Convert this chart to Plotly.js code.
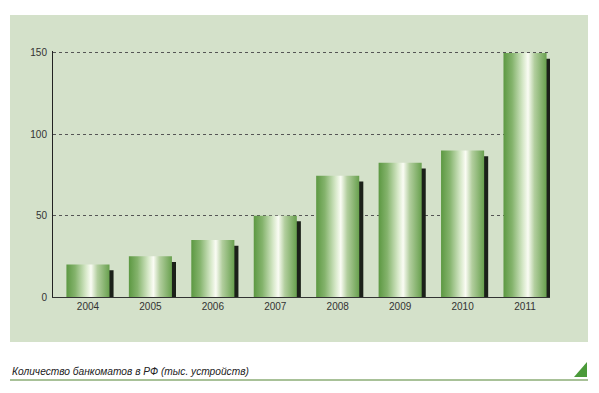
<!DOCTYPE html>
<html>
<head>
<meta charset="utf-8">
<script src="https://cdn.plot.ly/plotly-3.0.1.min.js"></script>
<style>html,body{margin:0;padding:0;background:#fff;}#chart{width:599px;height:393px;}</style>
</head>
<body>
<div id="chart"></div>
<script>
// Data
const years = ['2004','2005','2006','2007','2008','2009','2010','2011'];
const atms = [20, 25, 35, 50, 74.5, 82.5, 90, 150];
const yTicks = [0, 50, 100, 150];
const caption = 'Количество банкоматов в РФ (тыс. устройств)';

// Style
const W = 599, H = 393;
const yMax = 151.2;
const plotL = 53, plotR = 550, plotB = 297;
const plotT = Math.round(plotB - 244 * yMax / 150);
const pw = plotR - plotL, ph = plotB - plotT;
const px = v => (v - plotL) / pw;
const py = v => (plotB - v) / ph;

const barW = 0.69;
const idx = years.map((_, i) => i);
const gradScale = [
  [0.00, 'rgb(92,152,66)'],
  [0.20, 'rgb(132,179,108)'],
  [0.45, 'rgb(214,232,200)'],
  [0.57, 'rgb(250,252,244)'],
  [0.72, 'rgb(178,206,158)'],
  [1.00, 'rgb(104,160,78)']
];

const traces = [];
// shadow
traces.push({
  type:'bar', x:idx, y:atms.map(v=>v-3.5),
  width:barW, offset:-barW/2+0.065,
  marker:{color:'#1b2019', line:{width:0}},
  hoverinfo:'skip', showlegend:false
});
// gradient bars
idx.forEach((i) => {
  const v = atms[i];
  const l = i - barW/2, r = i + barW/2;
  traces.push({
    type:'scatter', mode:'lines',
    x:[l, r, r, l, l], y:[0, 0, v, v, 0],
    fill:'toself',
    fillgradient:{type:'horizontal', colorscale:gradScale, start:l, stop:r},
    line:{width:0, color:'rgba(0,0,0,0)'},
    hoverinfo:'skip', showlegend:false
  });
});

const layout = {
  width:W, height:H,
  margin:{l:plotL, r:W-plotR, t:plotT, b:H-plotB, pad:0},
  paper_bgcolor:'#ffffff',
  plot_bgcolor:'rgba(0,0,0,0)',
  barmode:'overlay',
  showlegend:false,
  font:{family:'Liberation Sans, Arial, sans-serif', size:10, color:'#333'},
  xaxis:{
    type:'linear', range:[-0.56, 7.4],
    tickvals:idx, ticktext:years,
    showgrid:false, zeroline:false,
    showline:true, linecolor:'#333', linewidth:1,
    ticks:'', tickfont:{size:10, color:'#333'}
  },
  yaxis:{
    range:[0,yMax], tickvals:yTicks,
    showgrid:true, gridcolor:'#555', griddash:'dot', gridwidth:1,
    zeroline:false, showline:true, linecolor:'#222', linewidth:1,
    ticks:'', tickfont:{size:10, color:'#333'}, ticklabelstandoff:3
  },
  shapes:[
    {type:'rect', xref:'paper', yref:'paper', layer:'below',
     x0:px(10), x1:px(588), y0:py(342), y1:py(15),
     fillcolor:'#d4e1ca', line:{width:0}},
    {type:'line', xref:'paper', yref:'paper',
     x0:px(10), x1:px(588), y0:py(380), y1:py(380),
     line:{color:'#a8c198', width:2}},
    {type:'path', xref:'paper', yref:'paper',
     path:'M '+px(574)+' '+py(377)+' L '+px(587)+' '+py(377)+' L '+px(587)+' '+py(362)+' Z',
     fillcolor:'#4b9a3a', line:{width:0}}
  ],
  annotations:[
    {xref:'paper', yref:'paper', x:px(10), y:py(371), xanchor:'left', yanchor:'middle',
     text:'<i>'+caption+'</i>', showarrow:false,
     font:{family:'Liberation Sans, Arial, sans-serif', size:10.2, color:'#222'}}
  ]
};

Plotly.newPlot('chart', traces, layout, {staticPlot:true, displayModeBar:false});
</script>
</body>
</html>
